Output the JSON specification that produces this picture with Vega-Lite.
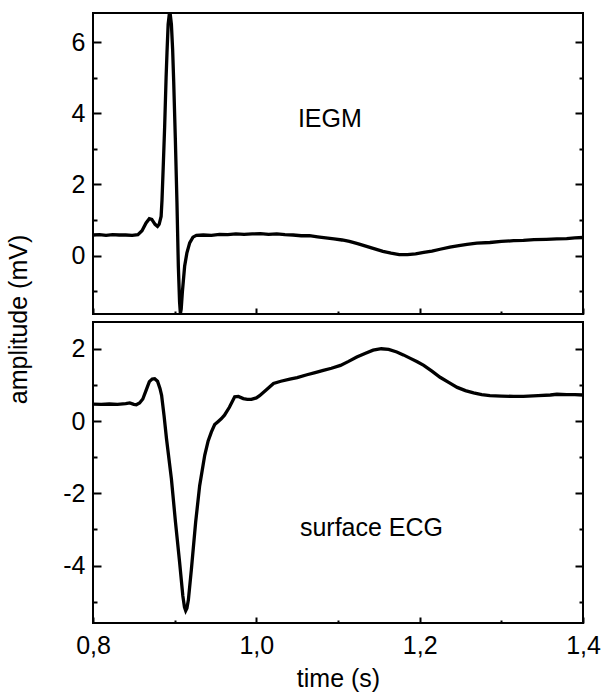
{
  "$schema": "https://vega.github.io/schema/vega-lite/v6.json",
  "padding": {"left": 5, "top": 9, "right": 5, "bottom": 5},
  "background": "white",
  "config": {
    "font": "Liberation Sans",
    "view": {"stroke": "black", "strokeWidth": 2},
    "axis": {"domain": false, "grid": false, "labelFlush": false, "labelFont": "Liberation Sans", "labelFontSize": 25, "labelColor": "black", "tickColor": "black", "tickWidth": 2, "titleFont": "Liberation Sans", "titleFontSize": 25, "titleFontWeight": "normal", "titleColor": "black"}
  },
  "datasets": {
    "iegm": [
      {"t":0.800,"v":0.58},{"t":0.808,"v":0.59},{"t":0.816,"v":0.57},{"t":0.824,"v":0.59},{"t":0.832,"v":0.58},{"t":0.840,"v":0.58},{"t":0.848,"v":0.57},{"t":0.855,"v":0.59},{"t":0.860,"v":0.70},{"t":0.865,"v":0.92},{"t":0.869,"v":1.04},{"t":0.872,"v":1.02},{"t":0.876,"v":0.88},{"t":0.879,"v":0.82},{"t":0.881,"v":0.88},{"t":0.8834,"v":1.1},{"t":0.8845,"v":1.56},{"t":0.886,"v":2.5},{"t":0.8877,"v":3.6},{"t":0.8895,"v":5.0},{"t":0.8906,"v":5.7},{"t":0.892,"v":6.5},{"t":0.894,"v":6.9},{"t":0.896,"v":6.5},{"t":0.8975,"v":5.8},{"t":0.8988,"v":4.9},{"t":0.9008,"v":3.3},{"t":0.9028,"v":1.5},{"t":0.9045,"v":-0.3},{"t":0.906,"v":-1.3},{"t":0.907,"v":-1.63},{"t":0.908,"v":-1.5},{"t":0.9094,"v":-1.03},{"t":0.9122,"v":-0.3},{"t":0.915,"v":0.08},{"t":0.9184,"v":0.36},{"t":0.9224,"v":0.52},{"t":0.9266,"v":0.57},{"t":0.935,"v":0.58},{"t":0.945,"v":0.57},{"t":0.955,"v":0.60},{"t":0.965,"v":0.59},{"t":0.975,"v":0.61},{"t":0.985,"v":0.60},{"t":0.995,"v":0.61},{"t":1.005,"v":0.62},{"t":1.015,"v":0.60},{"t":1.025,"v":0.61},{"t":1.035,"v":0.59},{"t":1.045,"v":0.58},{"t":1.055,"v":0.56},{"t":1.065,"v":0.56},{"t":1.075,"v":0.53},{"t":1.085,"v":0.50},{"t":1.095,"v":0.47},{"t":1.105,"v":0.44},{"t":1.114,"v":0.40},{"t":1.125,"v":0.33},{"t":1.135,"v":0.26},{"t":1.145,"v":0.19},{"t":1.155,"v":0.12},{"t":1.165,"v":0.07},{"t":1.175,"v":0.03},{"t":1.185,"v":0.03},{"t":1.195,"v":0.05},{"t":1.205,"v":0.09},{"t":1.215,"v":0.13},{"t":1.225,"v":0.18},{"t":1.237,"v":0.24},{"t":1.248,"v":0.28},{"t":1.258,"v":0.32},{"t":1.270,"v":0.35},{"t":1.286,"v":0.37},{"t":1.300,"v":0.40},{"t":1.315,"v":0.42},{"t":1.327,"v":0.43},{"t":1.340,"v":0.45},{"t":1.355,"v":0.46},{"t":1.368,"v":0.47},{"t":1.380,"v":0.48},{"t":1.390,"v":0.50},{"t":1.400,"v":0.51}
    ],
    "ecg": [
      {"t":0.800,"v":0.47},{"t":0.810,"v":0.46},{"t":0.820,"v":0.47},{"t":0.830,"v":0.46},{"t":0.840,"v":0.48},{"t":0.845,"v":0.50},{"t":0.850,"v":0.46},{"t":0.853,"v":0.45},{"t":0.857,"v":0.50},{"t":0.861,"v":0.61},{"t":0.865,"v":0.85},{"t":0.869,"v":1.09},{"t":0.8725,"v":1.16},{"t":0.8755,"v":1.17},{"t":0.879,"v":1.10},{"t":0.882,"v":0.90},{"t":0.884,"v":0.71},{"t":0.887,"v":0.15},{"t":0.890,"v":-0.49},{"t":0.896,"v":-1.6},{"t":0.901,"v":-2.8},{"t":0.906,"v":-3.9},{"t":0.910,"v":-4.84},{"t":0.912,"v":-5.15},{"t":0.9135,"v":-5.25},{"t":0.915,"v":-5.18},{"t":0.9168,"v":-4.95},{"t":0.9205,"v":-4.1},{"t":0.9257,"v":-2.8},{"t":0.9306,"v":-1.79},{"t":0.9368,"v":-0.95},{"t":0.941,"v":-0.55},{"t":0.945,"v":-0.3},{"t":0.949,"v":-0.1},{"t":0.953,"v":-0.02},{"t":0.957,"v":0.06},{"t":0.961,"v":0.16},{"t":0.967,"v":0.38},{"t":0.9735,"v":0.67},{"t":0.978,"v":0.68},{"t":0.984,"v":0.62},{"t":0.989,"v":0.60},{"t":0.994,"v":0.60},{"t":1.000,"v":0.64},{"t":1.004,"v":0.70},{"t":1.012,"v":0.86},{"t":1.021,"v":1.04},{"t":1.030,"v":1.10},{"t":1.041,"v":1.16},{"t":1.050,"v":1.20},{"t":1.062,"v":1.28},{"t":1.072,"v":1.34},{"t":1.082,"v":1.40},{"t":1.092,"v":1.46},{"t":1.103,"v":1.54},{"t":1.113,"v":1.65},{"t":1.123,"v":1.77},{"t":1.133,"v":1.87},{"t":1.143,"v":1.96},{"t":1.153,"v":2.0},{"t":1.162,"v":1.98},{"t":1.172,"v":1.91},{"t":1.180,"v":1.83},{"t":1.188,"v":1.74},{"t":1.197,"v":1.64},{"t":1.205,"v":1.54},{"t":1.215,"v":1.38},{"t":1.225,"v":1.21},{"t":1.236,"v":1.06},{"t":1.246,"v":0.93},{"t":1.256,"v":0.84},{"t":1.266,"v":0.78},{"t":1.276,"v":0.73},{"t":1.286,"v":0.70},{"t":1.300,"v":0.69},{"t":1.315,"v":0.68},{"t":1.327,"v":0.68},{"t":1.345,"v":0.70},{"t":1.360,"v":0.72},{"t":1.368,"v":0.74},{"t":1.380,"v":0.73},{"t":1.390,"v":0.73},{"t":1.400,"v":0.72}
    ]
  },
  "spacing": 8,
  "bounds": "flush",
  "vconcat": [
    {
      "width": 490,
      "height": 301,
      "layer": [
        {
          "data": {"name": "iegm"},
          "mark": {"type": "line", "color": "black", "strokeWidth": 3.3, "clip": true},
          "encoding": {
            "x": {"field": "t", "type": "quantitative", "scale": {"domain": [0.8, 1.4], "nice": false, "zero": false},
                  "axis": {"orient": "bottom", "values": [0.8, 0.9, 1.0, 1.1, 1.2, 1.3, 1.4], "labels": false, "title": null,
                           "tickSize": {"condition": {"test": "round(datum.value*10) % 2 === 0", "value": -6}, "value": -3}}},
            "y": {"field": "v", "type": "quantitative", "scale": {"domain": [-1.64, 6.82], "nice": false, "zero": false},
                  "axis": {"orient": "left", "values": [-1, 0, 1, 2, 3, 4, 5, 6],
                           "labelExpr": "abs(datum.value) % 2 === 0 ? toString(datum.value) : ''",
                           "tickSize": {"condition": {"test": "abs(datum.value) % 2 === 0", "value": -8}, "value": -4},
                           "labelPadding": 16,
                           "title": "amplitude (mV)", "titleAngle": -90, "titleX": -75, "titleY": 306, "titleAlign": "center", "titleBaseline": "middle"}}
          }
        },
        {
          "data": {"name": "iegm"},
          "mark": {"type": "line", "strokeOpacity": 0},
          "encoding": {
            "x": {"field": "t", "type": "quantitative", "scale": {"domain": [0.8, 1.4], "nice": false, "zero": false}},
            "y": {"field": "v", "type": "quantitative", "scale": {"domain": [-1.64, 6.82], "nice": false, "zero": false},
                  "axis": {"orient": "right", "values": [-1, 0, 1, 2, 3, 4, 5, 6], "labels": false, "title": null,
                           "tickSize": {"condition": {"test": "abs(datum.value) % 2 === 0", "value": -8}, "value": -4}}}
          }
        },
        {
          "data": {"values": [{"t": 1.09, "v": 3.83, "label": "IEGM"}]},
          "mark": {"type": "text", "fontSize": 25, "font": "Liberation Sans", "color": "black", "align": "center", "baseline": "middle"},
          "encoding": {
            "x": {"field": "t", "type": "quantitative", "scale": {"domain": [0.8, 1.4], "nice": false, "zero": false}},
            "y": {"field": "v", "type": "quantitative", "scale": {"domain": [-1.64, 6.82], "nice": false, "zero": false}, "axis": null},
            "text": {"field": "label"}
          }
        }
      ],
      "resolve": {"axis": {"y": "independent"}}
    },
    {
      "width": 490,
      "height": 301,
      "layer": [
        {
          "data": {"name": "ecg"},
          "mark": {"type": "line", "color": "black", "strokeWidth": 3.3, "clip": true},
          "encoding": {
            "x": {"field": "t", "type": "quantitative", "scale": {"domain": [0.8, 1.4], "nice": false, "zero": false},
                  "axis": {"orient": "bottom", "values": [0.8, 0.9, 1.0, 1.1, 1.2, 1.3, 1.4],
                           "labelExpr": "round(datum.value*10) % 2 === 0 ? replace(format(datum.value, '.1f'), '.', ',') : ''",
                           "labelPadding": 16, "labelFlush": false, "title": "time (s)", "titlePadding": 8,
                           "tickSize": {"condition": {"test": "round(datum.value*10) % 2 === 0", "value": -6}, "value": -3}}},
            "y": {"field": "v", "type": "quantitative", "scale": {"domain": [-5.59, 2.74], "nice": false, "zero": false},
                  "axis": {"orient": "left", "values": [-5, -4, -3, -2, -1, 0, 1, 2],
                           "labelExpr": "abs(datum.value) % 2 === 0 ? toString(datum.value) : ''",
                           "tickSize": {"condition": {"test": "abs(datum.value) % 2 === 0", "value": -8}, "value": -4},
                           "labelPadding": 16, "title": null}}
          }
        },
        {
          "data": {"name": "ecg"},
          "mark": {"type": "line", "strokeOpacity": 0},
          "encoding": {
            "x": {"field": "t", "type": "quantitative", "scale": {"domain": [0.8, 1.4], "nice": false, "zero": false}},
            "y": {"field": "v", "type": "quantitative", "scale": {"domain": [-5.59, 2.74], "nice": false, "zero": false},
                  "axis": {"orient": "right", "values": [-5, -4, -3, -2, -1, 0, 1, 2], "labels": false, "title": null,
                           "tickSize": {"condition": {"test": "abs(datum.value) % 2 === 0", "value": -8}, "value": -4}}}
          }
        },
        {
          "data": {"values": [{"t": 1.141, "v": -2.96, "label": "surface ECG"}]},
          "mark": {"type": "text", "fontSize": 25, "font": "Liberation Sans", "color": "black", "align": "center", "baseline": "middle"},
          "encoding": {
            "x": {"field": "t", "type": "quantitative", "scale": {"domain": [0.8, 1.4], "nice": false, "zero": false}},
            "y": {"field": "v", "type": "quantitative", "scale": {"domain": [-5.59, 2.74], "nice": false, "zero": false}, "axis": null},
            "text": {"field": "label"}
          }
        }
      ],
      "resolve": {"axis": {"y": "independent"}}
    }
  ]
}
